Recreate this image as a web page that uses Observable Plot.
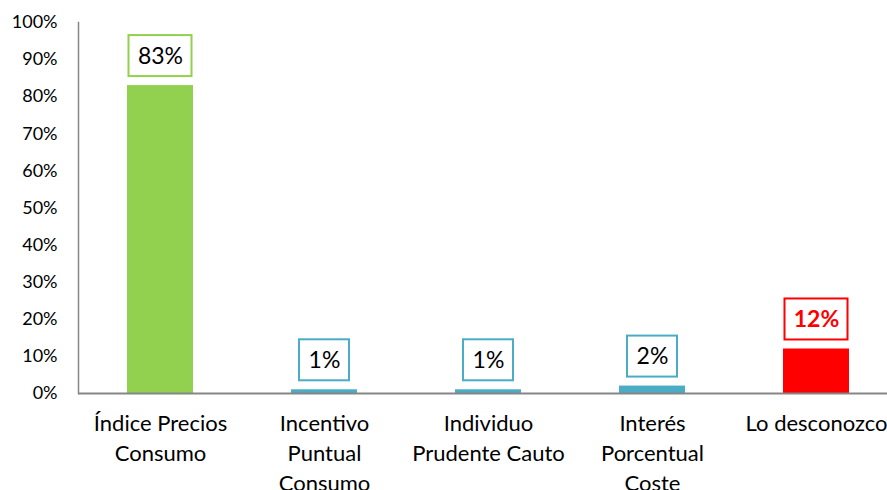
<!DOCTYPE html>
<html>
<head>
<meta charset="utf-8">
<script src="https://cdn.jsdelivr.net/npm/d3@7"></script>
<script src="https://cdn.jsdelivr.net/npm/@observablehq/plot@0.6"></script>
<style>
  html, body { margin: 0; padding: 0; background: #fff; }
  svg { font-family: Lato, "Open Sans", sans-serif; }
</style>
</head>
<body>
<div id="chart"></div>
<script>
const categories = ["Índice Precios\nConsumo", "Incentivo\nPuntual\nConsumo", "Individuo\nPrudente Cauto", "Interés\nPorcentual\nCoste", "Lo desconozco"];
const values = [0.83, 0.01, 0.01, 0.02, 0.12];
const barColors = ["#92D050", "#4BACC6", "#4BACC6", "#4BACC6", "#FF0000"];
const labelColors = ["#000000", "#000000", "#000000", "#000000", "#FF0000"];
const labelBold = [false, false, false, false, true];
const yTicks = [0, 0.1, 0.2, 0.3, 0.4, 0.5, 0.6, 0.7, 0.8, 0.9, 1.0];

const fmt = d3.format(".0%");
const data = categories.map((c, i) => ({
  cat: c, value: values[i], color: barColors[i],
  labelColor: labelColors[i], bold: labelBold[i], label: fmt(values[i])
}));

const boxOpts = (filter, inset) => ({
  filter, x: "cat", y1: "value", y2: "value",
  insetTop: -20.5, insetBottom: -20.5, insetLeft: inset, insetRight: inset,
  dy: -29.5, fill: "#fff", stroke: d => d.color, strokeWidth: 2
});

const chart = Plot.plot({
  width: 887,
  height: 490,
  marginLeft: 78,
  marginRight: 0,
  marginTop: 22,
  marginBottom: 97,
  x: { domain: categories, range: [78, 898], paddingInner: 0.598, paddingOuter: 0.299, axis: null },
  y: { domain: [0, 1], ticks: yTicks },
  marks: [
    Plot.axisY({ ticks: yTicks, tickFormat: fmt, tickSize: 0, tickPadding: 21, fontSize: 18, fill: "#000", label: null }),
    Plot.barY(data, { x: "cat", y: "value", fill: d => d.color }),
    Plot.frame({ anchor: "left", stroke: "#868686", strokeWidth: 1.5, strokeOpacity: 1 }),
    Plot.ruleY([0], { stroke: "#868686", strokeWidth: 2 }),
    Plot.text(data, { x: "cat", y: 0, text: "cat", dy: 16, lineAnchor: "top", lineHeight: 1.36, fontSize: 22, fill: "#000" }),
    // label boxes
    Plot.rectY(data, boxOpts(d => d.label.length >= 3, 1.5)),
    Plot.rectY(data, boxOpts(d => d.label.length < 3, 8)),
    // label texts
    Plot.text(data, { filter: d => !d.bold, x: "cat", y: "value", text: "label", dy: -29, lineAnchor: "middle", fontSize: 23, fill: d => d.labelColor }),
    Plot.text(data, { filter: d => d.bold, x: "cat", y: "value", text: "label", dy: -29, lineAnchor: "middle", fontSize: 23, fontWeight: "bold", fill: d => d.labelColor })
  ]
});

document.getElementById("chart").appendChild(chart);
</script>
</body>
</html>
